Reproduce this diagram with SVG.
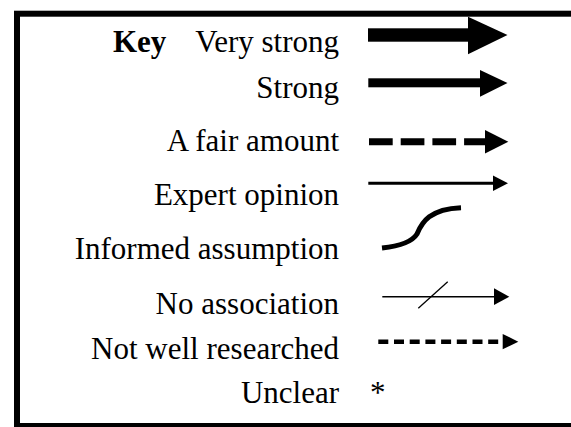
<svg xmlns="http://www.w3.org/2000/svg" width="571" height="427" viewBox="0 0 571 427">
<style>
text{font-family:'Liberation Serif','Tinos','Times New Roman','Nimbus Roman','DejaVu Serif',serif;font-size:31px;fill:#000}
.t{text-anchor:end}
.k{font-weight:bold}
.h{fill:#000;stroke:none}
</style>
<rect width="571" height="427" fill="#fff"/>
<rect id="frame" x="17" y="13.7" width="600" height="412.3" fill="none" stroke="#000" stroke-width="6"/>
<g id="labels" font-family="Liberation Serif, Times New Roman, serif">
<text class="k" x="113" y="51.7">Key</text>
<text class="t" x="339" y="51.7">Very strong</text>
<text class="t" x="339" y="98.3">Strong</text>
<text class="t" x="339" y="151">A fair amount</text>
<text class="t" x="339" y="204.7">Expert opinion</text>
<text class="t" x="339" y="259.3">Informed assumption</text>
<text class="t" x="339" y="313.7">No association</text>
<text class="t" x="339" y="359.2">Not well researched</text>
<text class="t" x="339" y="403.3">Unclear</text>
</g>
<g id="connectors">
<g id="very-strong">
<rect x="368" y="28.3" width="101" height="13.4" fill="#000"/>
<polygon class="h" points="468,16.7 507.5,35 468,54.3"/>
</g>
<g id="strong">
<rect x="368.3" y="78.3" width="112" height="9" fill="#000"/>
<polygon class="h" points="480,70 507.5,83 480,96.7"/>
</g>
<g id="fair">
<line x1="369" y1="141.7" x2="488" y2="141.7" stroke="#000" stroke-width="7" stroke-dasharray="23.7 8"/>
<polygon class="h" points="485,130 508.3,141.7 485,153.4"/>
</g>
<g id="expert">
<line x1="368.3" y1="183.3" x2="494" y2="183.3" stroke="#000" stroke-width="3"/>
<polygon class="h" points="493,175.5 508,183.3 493,191"/>
</g>
<g id="informed">
<path d="M382,248 C400,246 412,242 417,234 C422,222 430,209 461,207.7" fill="none" stroke="#000" stroke-width="5"/>
</g>
<g id="no-association">
<line x1="382.3" y1="296.7" x2="495" y2="296.7" stroke="#000" stroke-width="1.5"/>
<line x1="418.3" y1="308.3" x2="447.7" y2="281.7" stroke="#000" stroke-width="1.3"/>
<polygon class="h" points="494,288.3 509.3,296.7 494,305"/>
</g>
<g id="not-well">
<line x1="378.3" y1="341.7" x2="504" y2="341.7" stroke="#000" stroke-width="4.5" stroke-dasharray="10 5.7"/>
<polygon class="h" points="502.7,334 518.3,341.7 502.7,349.3"/>
</g>
<text id="unclear-mark" x="370" y="403.3">*</text>
</g>
</svg>
